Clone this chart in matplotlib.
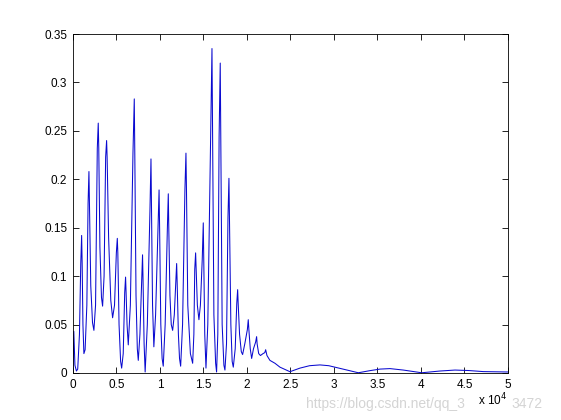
import matplotlib
matplotlib.use("Agg")
import matplotlib.pyplot as plt

# ── Data (frequency bin vs. magnitude) ───────────────────────────────────────
freq = [
    0, 100, 230, 400, 550,
    750, 900, 1000, 1060, 1150, 1260, 1400,
    1600, 1740, 1840, 1900, 2050, 2250, 2410,
    2600, 2800, 2910, 2970, 3100, 3280, 3410,
    3580, 3760, 3870, 3930, 4100, 4350, 4560,
    4780, 4990, 5100, 5160, 5300, 5480, 5600,
    5780, 5950, 6050, 6110, 6220, 6360,
    6600, 6900, 7050, 7110, 7250, 7400, 7510,
    7700, 7900, 8000, 8060, 8180, 8300,
    8550, 8850, 8970, 9030, 9150, 9300,
    9500, 9790, 9900, 9960, 10100, 10250, 10380,
    10600, 10850, 10960, 11020, 11150, 11300, 11460,
    11650, 11820, 11920, 11980, 12120, 12250, 12380,
    12600, 12870, 12990, 13050, 13200, 13500, 13760,
    13900, 14000, 14100, 14160, 14300, 14480,
    14650, 14860, 14980, 15040, 15150, 15290,
    15500, 15850, 15980, 16040, 16200, 16400, 16510,
    16650, 16800, 16930, 16990, 17150, 17350, 17470,
    17650, 17820, 17930, 17990, 18150, 18300, 18430,
    18650, 18830, 18930, 18990, 19150, 19350, 19500,
    19750, 20050, 20150, 20220, 20380, 20540,
    20750, 21000, 21110, 21170, 21350, 21550,
    21850, 22050, 22150, 22300, 22640, 23220, 23790, 24940,
    26090, 27200, 28390, 29400, 30310, 31500, 32800,
    34140, 35300, 36440, 37970, 40080, 42180, 43910, 45500, 47160, 50000,
]
amp = [
    0.003, 0.043, 0.008, 0.002, 0.004,
    0.04, 0.113, 0.142, 0.113, 0.05, 0.02, 0.024,
    0.07, 0.175, 0.208, 0.175, 0.09, 0.052, 0.044,
    0.07, 0.232, 0.258, 0.232, 0.13, 0.078, 0.069,
    0.1, 0.223, 0.240, 0.223, 0.14, 0.075, 0.057,
    0.07, 0.124, 0.139, 0.124, 0.05, 0.012, 0.005,
    0.02, 0.083, 0.099, 0.083, 0.05, 0.029,
    0.07, 0.227, 0.283, 0.227, 0.08, 0.025, 0.013,
    0.04, 0.095, 0.122, 0.095, 0.03, 0.001,
    0.05, 0.167, 0.221, 0.167, 0.07, 0.027,
    0.06, 0.151, 0.189, 0.151, 0.05, 0.015, 0.007,
    0.05, 0.148, 0.185, 0.148, 0.08, 0.05, 0.044,
    0.06, 0.093, 0.113, 0.093, 0.04, 0.015, 0.007,
    0.05, 0.189, 0.227, 0.189, 0.07, 0.02, 0.01,
    0.04, 0.107, 0.124, 0.107, 0.07, 0.055,
    0.07, 0.117, 0.155, 0.117, 0.04, 0.005,
    0.05, 0.261, 0.335, 0.261, 0.06, 0.01, 0.001,
    0.04, 0.244, 0.32, 0.244, 0.05, 0.008, 0.003,
    0.03, 0.161, 0.201, 0.161, 0.05, 0.012, 0.006,
    0.025, 0.072, 0.086, 0.072, 0.04, 0.022, 0.019,
    0.03, 0.045, 0.055, 0.045, 0.025, 0.015,
    0.025, 0.032, 0.0375, 0.03, 0.02, 0.018,
    0.02, 0.021, 0.024, 0.018, 0.013, 0.01, 0.006, 0.0013,
    0.005, 0.0075, 0.0083, 0.0075, 0.0055, 0.003, 0.0002,
    0.0024, 0.004, 0.0045, 0.003, 0.0002, 0.002, 0.003, 0.0025, 0.0014, 0.001,
]

x_ticks = [0, 5000, 10000, 15000, 20000, 25000, 30000, 35000, 40000, 45000, 50000]
x_tick_labels = ["0", "0.5", "1", "1.5", "2", "2.5", "3", "3.5", "4", "4.5", "5"]
y_ticks = [0, 0.05, 0.1, 0.15, 0.2, 0.25, 0.3, 0.35]
y_tick_labels = ["0", "0.05", "0.1", "0.15", "0.2", "0.25", "0.3", "0.35"]

plt.rcParams["font.family"] = ["Liberation Sans", "DejaVu Sans"]

fig = plt.figure(figsize=(5.61, 4.2), dpi=100, facecolor="white")
ax = fig.add_axes([0.130, 0.112, 0.7755, 0.807])

ax.plot(freq, amp, color="#0a0ad0", linewidth=0.75)

ax.set_xlim(0, 50000)
ax.set_ylim(0, 0.35)
ax.set_xticks(x_ticks)
ax.set_xticklabels(x_tick_labels)
ax.set_yticks(y_ticks)
ax.set_yticklabels(y_tick_labels)
ax.tick_params(direction="in", length=4, width=0.6, labelsize=8.5,
               top=True, right=True, colors="black", pad=4)
for spine in ax.spines.values():
    spine.set_linewidth(0.6)

# MATLAB-style exponent label
fig.text(0.852, 0.028, r"x 10$^4$", fontsize=8.5, ha="left", va="bottom")

# faint watermark, split around the exponent label as in the reference
fig.text(0.545, 0.022, "https://blog.csdn.net/qq_3", fontsize=10,
         color="#d4d4d4", ha="left", va="bottom")
fig.text(0.912, 0.022, "3472", fontsize=10,
         color="#d4d4d4", ha="left", va="bottom")

fig.savefig("out.png", dpi=100, facecolor="white")
